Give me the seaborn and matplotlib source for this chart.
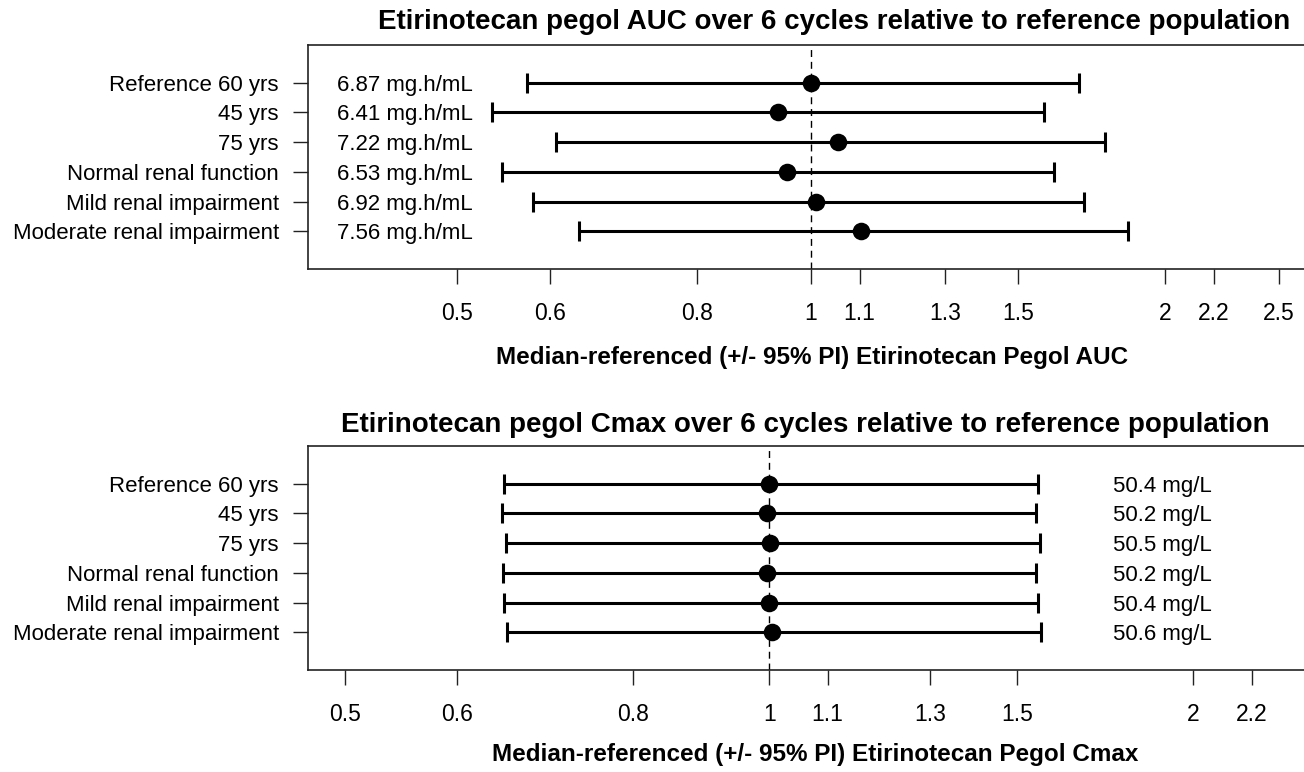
import numpy as np
import pandas as pd
import seaborn as sns
import matplotlib.pyplot as plt
from matplotlib.ticker import NullLocator

# Groups (top to bottom)
groups = ['Reference 60 yrs', '45 yrs', '75 yrs', 'Normal renal function',
          'Mild renal impairment', 'Moderate renal impairment']

# AUC: median ratio and 95% PI
auc_median = [1.000, 0.937, 1.054, 0.954, 1.010, 1.104]
auc_lo = [0.574, 0.536, 0.607, 0.546, 0.580, 0.635]
auc_hi = [1.691, 1.579, 1.780, 1.609, 1.706, 1.860]
auc_text = ['6.87 mg.h/mL', '6.41 mg.h/mL', '7.22 mg.h/mL',
            '6.53 mg.h/mL', '6.92 mg.h/mL', '7.56 mg.h/mL']

# Cmax
cmax_median = [1.000, 0.996, 1.002, 0.996, 1.000, 1.004]
cmax_lo = [0.648, 0.646, 0.650, 0.647, 0.648, 0.651]
cmax_hi = [1.552, 1.546, 1.556, 1.548, 1.553, 1.559]
cmax_text = ['50.4 mg/L', '50.2 mg/L', '50.5 mg/L',
             '50.2 mg/L', '50.4 mg/L', '50.6 mg/L']

auc_ticks = [0.5, 0.6, 0.8, 1, 1.1, 1.3, 1.5, 2, 2.2, 2.5]
cmax_ticks = [0.5, 0.6, 0.8, 1, 1.1, 1.3, 1.5, 2, 2.2]
tick_labels = {0.5: '0.5', 0.6: '0.6', 0.8: '0.8', 1: '1', 1.1: '1.1', 1.3: '1.3',
               1.5: '1.5', 2: '2', 2.2: '2.2', 2.5: '2.5'}

sns.set_theme(style='white')
plt.rcParams['font.family'] = ['Liberation Sans', 'DejaVu Sans']
plt.rcParams['text.color'] = 'black'
plt.rcParams['xtick.labelcolor'] = 'black'
plt.rcParams['ytick.labelcolor'] = 'black'

fig = plt.figure(figsize=(13.04, 7.72), dpi=100)
W, H = 1304, 772


def make_ax(left, top, right, bottom):
    return fig.add_axes([left / W, 1 - bottom / H, (right - left) / W, (bottom - top) / H])


def draw_panel(ax, df, ticks, xlim, title, title_x, title_y, xlabel, label_x, label_y, text_x):
    df = df.copy()
    df['pos'] = np.arange(len(df))
    ax.errorbar(df['median'], df['pos'],
                xerr=[df['median'] - df['lo'], df['hi'] - df['median']],
                fmt='none', ecolor='black', elinewidth=2.2, capsize=7, capthick=2.2, zorder=2)
    sns.scatterplot(data=df, x='median', y='pos', ax=ax, color='black', s=160,
                    edgecolor='black', linewidth=0, zorder=3, legend=False)
    ax.axvline(1, color='black', lw=1, ls=(0, (5, 3.5)), zorder=1)
    ax.set_xscale('log')
    ax.set_xlim(*xlim)
    ax.set_ylim(len(df) - 1 + 1.26, -1.26)
    ax.set_xticks(ticks)
    ax.set_xticklabels([tick_labels[t] for t in ticks])
    ax.xaxis.set_minor_locator(NullLocator())
    ax.set_yticks(df['pos'])
    ax.set_yticklabels(df['group'])
    ax.tick_params(axis='x', direction='out', length=11, width=1, color='#222222',
                   labelsize=16.5, pad=13, bottom=True)
    ax.tick_params(axis='y', direction='out', length=11, width=1, color='#222222',
                   labelsize=16, pad=10, left=True)
    for sp in ax.spines.values():
        sp.set_color('#222222')
        sp.set_linewidth(1.2)
    ax.set_xlabel('')
    ax.set_ylabel('')
    for y, t in zip(df['pos'], df['text']):
        ax.text(text_x, y, t, transform=ax.get_yaxis_transform(), ha='left',
                va='center_baseline', fontsize=16)
    ax.text(title_x, title_y, title, transform=ax.transAxes, ha='center', va='center',
            fontsize=20, fontweight='bold')
    ax.text(label_x, label_y, xlabel, transform=ax.transAxes, ha='center', va='center',
            fontsize=17.5, fontweight='bold')


auc_df = pd.DataFrame({'group': groups, 'median': auc_median, 'lo': auc_lo,
                       'hi': auc_hi, 'text': auc_text})
cmax_df = pd.DataFrame({'group': groups, 'median': cmax_median, 'lo': cmax_lo,
                        'hi': cmax_hi, 'text': cmax_text})

ax1 = make_ax(308, 45, 1306, 269)
ax2 = make_ax(308, 446, 1306, 670)

draw_panel(ax1, auc_df, auc_ticks, (0.3736, 2.636),
           'Etirinotecan pegol AUC over 6 cycles relative to reference population',
           0.527, 1.103,
           'Median-referenced (+/- 95% PI) Etirinotecan Pegol AUC', 0.505, -0.397, 0.029)
draw_panel(ax2, cmax_df, cmax_ticks, (0.4705, 2.405),
           'Etirinotecan pegol Cmax over 6 cycles relative to reference population',
           0.498, 1.094,
           'Median-referenced (+/- 95% PI) Etirinotecan Pegol Cmax', 0.508, -0.379, 0.807)

fig.savefig('out.png', dpi=100)
